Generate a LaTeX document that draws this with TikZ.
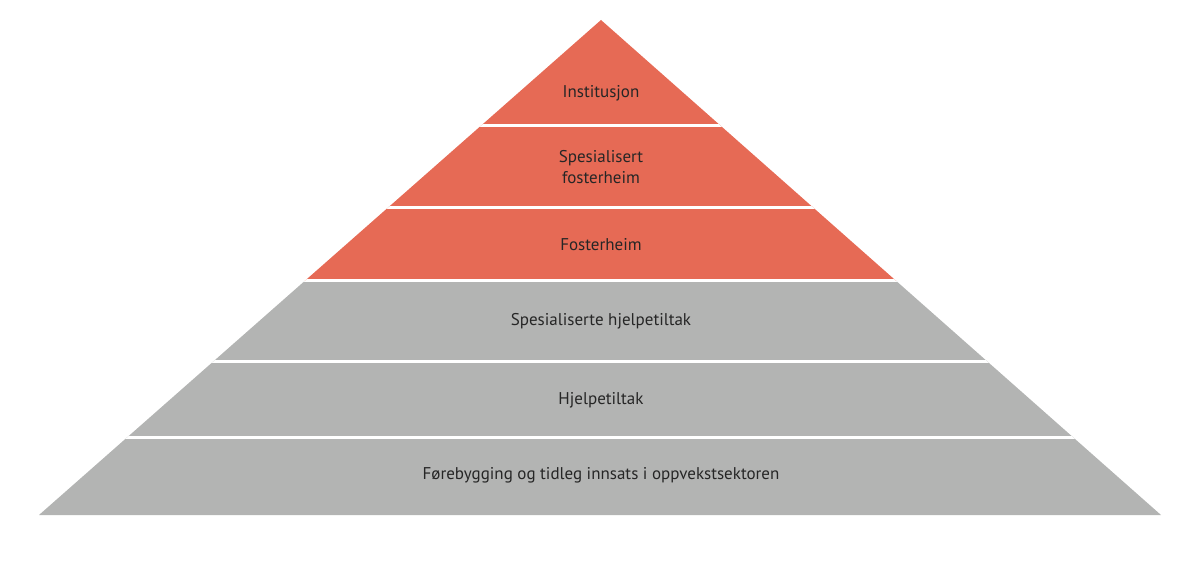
\documentclass[tikz,border=0pt]{standalone}
\usepackage{fontspec}
\setmainfont{PT Sans}
\definecolor{tred}{HTML}{E66A55}
\definecolor{tgray}{HTML}{B3B4B3}
\tikzset{lbl/.style={font=\fontsize{17}{21}\selectfont,align=center,text=black!85}}
\begin{document}
\begin{tikzpicture}[x=1pt,y=-1pt]
\useasboundingbox (0,0) rectangle (1200,569);
\coordinate (A) at (601,20);
\coordinate (L) at (39,515);
\coordinate (R) at (1161,515);
\begin{scope}
\clip (A) -- (L) -- (R) -- cycle;
\fill[tred] (0,0) rectangle (1200,281);
\fill[tgray] (0,281) rectangle (1200,569);
\foreach \y in {126,208,281,362,437}
  \draw[white,line width=3pt] (0,\y) -- (1200,\y);
\end{scope}
\node[lbl] (n1) at (601,93) {Institusjon};
\node[lbl] (n2) at (601,167) {Spesialisert\\fosterheim};
\node[lbl] (n3) at (601,245) {Fosterheim};
\node[lbl] (n4) at (601,321) {Spesialiserte hjelpetiltak};
\node[lbl] (n5) at (601,400) {Hjelpetiltak};
\node[lbl] (n6) at (601,475) {Førebygging og tidleg innsats i oppvekstsektoren};
\end{tikzpicture}
\end{document}
